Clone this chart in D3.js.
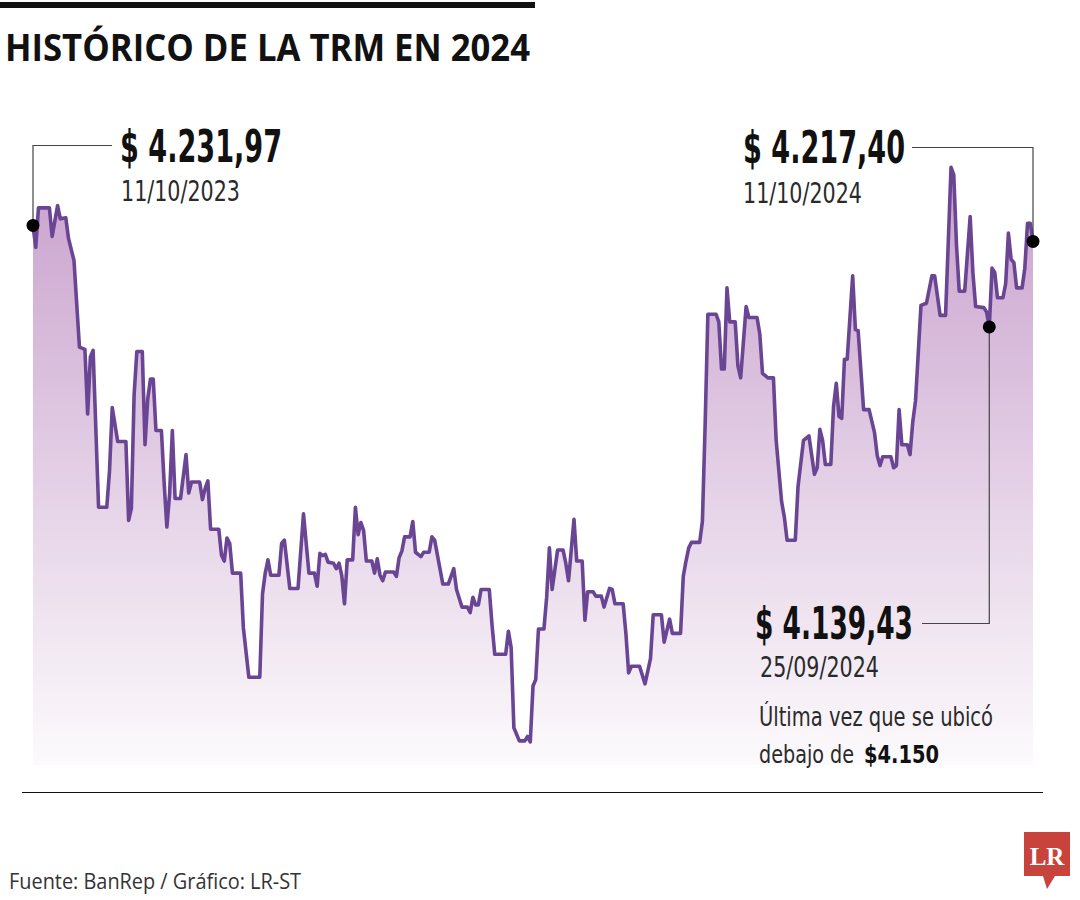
<!DOCTYPE html>
<html><head><meta charset="utf-8">
<script src="https://cdn.jsdelivr.net/npm/d3@7"></script>
<style>
html,body{margin:0;padding:0;background:#fff;}
svg{display:block;}
</style></head>
<body>
<script>
// ---- DATA ----
const dates = [
"2023-10-11","2023-10-12","2023-10-13","2023-10-17","2023-10-18","2023-10-20","2023-10-21","2023-10-23","2023-10-24","2023-10-26",
"2023-10-28","2023-10-30","2023-10-31","2023-11-01","2023-11-02","2023-11-04","2023-11-07","2023-11-08","2023-11-09","2023-11-11",
"2023-11-14","2023-11-15","2023-11-16","2023-11-17","2023-11-18","2023-11-20","2023-11-21","2023-11-22","2023-11-23","2023-11-24",
"2023-11-25","2023-11-27","2023-11-28","2023-11-29","2023-11-30","2023-12-01","2023-12-02","2023-12-04","2023-12-06","2023-12-07",
"2023-12-08","2023-12-11","2023-12-12","2023-12-13","2023-12-14","2023-12-15","2023-12-18","2023-12-19","2023-12-20","2023-12-21",
"2023-12-22","2023-12-23","2023-12-26","2023-12-27","2023-12-29","2024-01-02","2024-01-03","2024-01-04","2024-01-05","2024-01-06",
"2024-01-09","2024-01-10","2024-01-11","2024-01-13","2024-01-16","2024-01-18","2024-01-20","2024-01-22","2024-01-23","2024-01-24",
"2024-01-25","2024-01-26","2024-01-27","2024-01-29","2024-01-30","2024-01-31","2024-02-01","2024-02-02","2024-02-03","2024-02-05",
"2024-02-06","2024-02-07","2024-02-08","2024-02-09","2024-02-10","2024-02-12","2024-02-13","2024-02-14","2024-02-15","2024-02-16",
"2024-02-17","2024-02-20","2024-02-21","2024-02-22","2024-02-23","2024-02-24","2024-02-26","2024-02-27","2024-02-28","2024-03-01",
"2024-03-02","2024-03-04","2024-03-05","2024-03-06","2024-03-09","2024-03-11","2024-03-13","2024-03-14","2024-03-16","2024-03-18",
"2024-03-19","2024-03-20","2024-03-21","2024-03-22","2024-03-23","2024-03-26","2024-03-27","2024-03-28","2024-04-01","2024-04-02",
"2024-04-03","2024-04-04","2024-04-06","2024-04-08","2024-04-09","2024-04-10","2024-04-11","2024-04-12","2024-04-13","2024-04-15",
"2024-04-16","2024-04-17","2024-04-18","2024-04-20","2024-04-22","2024-04-23","2024-04-24","2024-04-26","2024-04-27","2024-04-29",
"2024-04-30","2024-05-01","2024-05-03","2024-05-04","2024-05-06","2024-05-07","2024-05-09","2024-05-10","2024-05-11","2024-05-14",
"2024-05-15","2024-05-16","2024-05-17","2024-05-20","2024-05-22","2024-05-24","2024-05-25","2024-05-28","2024-05-29","2024-05-31",
"2024-06-01","2024-06-04","2024-06-05","2024-06-06","2024-06-07","2024-06-08","2024-06-11","2024-06-12","2024-06-13","2024-06-14",
"2024-06-17","2024-06-18","2024-06-19","2024-06-20","2024-06-21","2024-06-22","2024-06-24","2024-06-25","2024-06-26","2024-06-28",
"2024-06-29","2024-07-02","2024-07-03","2024-07-04","2024-07-06","2024-07-08","2024-07-09","2024-07-11","2024-07-12","2024-07-13",
"2024-07-16","2024-07-17","2024-07-19","2024-07-21","2024-07-23","2024-07-24","2024-07-25","2024-07-26","2024-07-27","2024-07-29",
"2024-07-30","2024-07-31","2024-08-01","2024-08-02","2024-08-03","2024-08-04","2024-08-06","2024-08-07","2024-08-08","2024-08-10",
"2024-08-12","2024-08-14","2024-08-15","2024-08-16","2024-08-17","2024-08-20","2024-08-21","2024-08-22","2024-08-23","2024-08-24",
"2024-08-26","2024-08-27","2024-08-28","2024-08-29","2024-08-31","2024-09-02","2024-09-04","2024-09-05","2024-09-07","2024-09-09",
"2024-09-11","2024-09-12","2024-09-13","2024-09-14","2024-09-16","2024-09-18","2024-09-19","2024-09-20","2024-09-23","2024-09-24",
"2024-09-25","2024-09-26","2024-09-27","2024-09-28","2024-09-30","2024-10-01","2024-10-02","2024-10-03","2024-10-04","2024-10-05",
"2024-10-07","2024-10-08","2024-10-09","2024-10-10","2024-10-11"
];
const values = [
4231.97,4212,4248,4248,4222,4250,4238,4239,4220,4200,
4121,4119,4060,4112,4118,3975,3975,4008,4066,4035,
4035,3963,3974,4077,4117,4117,4032,4074,4092,4092,
4045,4045,3997,3957,3987,4045,3983,3983,4023,3988,
3998,3998,3982,3992,3999,3955,3955,3931,3926,3947,
3942,3915,3915,3865,3820,3820,3896,3915,3927,3913,
3913,3942,3945,3901,3901,3969,3915,3915,3903,3933,
3931,3932,3925,3924,3919,3924,3913,3887,3927,3927,
3975,3950,3961,3954,3926,3926,3915,3928,3913,3908,
3916,3916,3912,3929,3935,3948,3948,3962,3934,3930,
3934,3934,3948,3945,3905,3905,3919,3900,3884,3884,
3879,3893,3886,3886,3900,3900,3868,3841,3841,3862,
3847,3774,3762,3762,3766,3761,3812,3818,3864,3864,
3893,3938,3900,3936,3936,3924,3908,3964,3926,3926,
3872,3898,3898,3894,3894,3884,3901,3900,3887,3887,
3860,3824,3830,3830,3814,3837,3877,3877,3852,3873,
3860,3860,3912,3926,3938,3943,3943,3962,4050,4151,
4151,4144,4101,4101,4175,4144,4144,4104,4093,4158,
4148,4148,4133,4097,4093,4093,4036,3980,3966,3945,
3945,3994,4036,4040,4005,4011,4046,4036,4014,4014,
4067,4088,4058,4056,4110,4110,4186,4137,4136,4064,
4064,4043,4022,4013,4021,4021,4011,4013,4064,4032,
4032,4023,4053,4072,4159,4161,4186,4186,4150,4150,
4285,4278,4214,4172,4172,4240,4189,4158,4157,4153,
4139.43,4193,4189,4166,4166,4179,4225,4201,4198,4175,
4175,4193,4234,4234,4217.40
];
const titleText = "HISTÓRICO DE LA TRM EN 2024";
const annStart = { date: "2023-10-11", label: "$ 4.231,97", sub: "11/10/2023" };
const annEnd   = { date: "2024-10-11", label: "$ 4.217,40", sub: "11/10/2024" };
const annLow   = { date: "2024-09-25", label: "$ 4.139,43", sub: "25/09/2024",
                   note1: "Última vez que se ubicó", note2a: "debajo de", note2b: "$4.150" };
const sourceText = "Fuente:  BanRep / Gráfico: LR-ST";
const logoText = "LR";

// ---- DRAW ----
const W = 1080, H = 900;
const parse = d3.timeParse("%Y-%m-%d");
const data = dates.map((d, i) => ({ date: parse(d), value: values[i] }));

const svg = d3.select("body").append("svg").attr("width", W).attr("height", H);

const x = d3.scaleTime().domain([parse("2023-10-11"), parse("2024-10-11")]).range([33, 1033]);
const y = d3.scaleLinear().domain([3700, 4300]).range([808.9, 150.8]);
const baseY = 765;

const defs = svg.append("defs");
const grad = defs.append("linearGradient").attr("id", "fillGrad")
  .attr("gradientUnits", "userSpaceOnUse").attr("x1", 0).attr("x2", 0).attr("y1", 165).attr("y2", baseY);
grad.append("stop").attr("offset", "0%").attr("stop-color", "#c9a0cd");
grad.append("stop").attr("offset", "55%").attr("stop-color", "#e5d2e7");
grad.append("stop").attr("offset", "100%").attr("stop-color", "#fcfafc");

// top bar + title
svg.append("rect").attr("x", 0).attr("y", 2).attr("width", 535).attr("height", 6).attr("fill", "#111");
svg.append("text").attr("x", 5).attr("y", 61)
  .attr("font-family", "'Open Sans', 'Liberation Sans', sans-serif").attr("font-weight", 700)
  .attr("font-size", 38).attr("fill", "#111")
  .attr("textLength", 525).attr("lengthAdjust", "spacingAndGlyphs").text(titleText);

// area + line
const area = d3.area().x(d => x(d.date)).y0(baseY).y1(d => y(d.value)).curve(d3.curveLinear);
const line = d3.line().x(d => x(d.date)).y(d => y(d.value)).curve(d3.curveLinear);
svg.append("path").datum(data).attr("d", area).attr("fill", "url(#fillGrad)");
svg.append("path").datum(data).attr("d", line).attr("fill", "none")
  .attr("stroke", "#6a4593").attr("stroke-width", 3.6).attr("stroke-linejoin", "round");

// baseline rule
svg.append("line").attr("x1", 22).attr("x2", 1043).attr("y1", 792.5).attr("y2", 792.5)
  .attr("stroke", "#111").attr("stroke-width", 1.2);

// annotations
const find = s => data.find(d => +d.date === +parse(s));
const pS = find(annStart.date), pE = find(annEnd.date), pL = find(annLow.date);
const conn = svg.append("g").attr("fill", "none").attr("stroke", "#444").attr("stroke-width", 1.2);
conn.append("path").attr("d", `M${x(pS.date)},${y(pS.value)} V145.5 H112`);
conn.append("path").attr("d", `M${x(pE.date)},${y(pE.value)} V147.5 H912`);
conn.append("path").attr("d", `M${x(pL.date)},${y(pL.value)} V623.5 H922`);

svg.selectAll("circle.dot").data([pS, pE, pL]).enter().append("circle")
  .attr("cx", d => x(d.date)).attr("cy", d => y(d.value)).attr("r", 6.5).attr("fill", "#000");

const condensed = "'Liberation Sans Narrow', 'DejaVu Sans Condensed', 'Open Sans', sans-serif";
function big(xp, yp, txt, len) {
  svg.append("text").attr("x", xp).attr("y", yp).attr("font-family", condensed)
    .attr("font-weight", 700).attr("font-size", 44).attr("fill", "#111")
    .attr("textLength", len).attr("lengthAdjust", "spacingAndGlyphs").text(txt);
}
function small(xp, yp, txt, len, bold, size) {
  svg.append("text").attr("x", xp).attr("y", yp).attr("font-family", condensed)
    .attr("font-weight", bold ? 700 : 400).attr("font-size", size || 29).attr("fill", bold ? "#111" : "#2a2a2a")
    .attr("textLength", len).attr("lengthAdjust", "spacingAndGlyphs").text(txt);
}
big(120, 162, annStart.label, 162);
small(121, 201, annStart.sub, 119);
big(743, 163, annEnd.label, 162);
small(743, 203, annEnd.sub, 119);
big(755, 639, annLow.label, 158);
small(760, 677, annLow.sub, 119);
small(759, 726, annLow.note1, 234, false, 26);
small(759, 763, annLow.note2a, 95, false, 24);
small(864, 763, annLow.note2b, 75, true, 25);

// source
svg.append("text").attr("x", 9).attr("y", 889).attr("font-family", "'Open Sans', 'Liberation Sans', sans-serif")
  .attr("font-size", 22).attr("fill", "#333").attr("textLength", 292).attr("lengthAdjust", "spacingAndGlyphs")
  .text(sourceText);

// logo
const lg = svg.append("g");
lg.append("path").attr("d", "M1024,832 H1070 V876 H1055 L1047,889 L1043,876 H1024 Z").attr("fill", "#c8433b");
lg.append("text").attr("x", 1047).attr("y", 865).attr("text-anchor", "middle")
  .attr("font-family", "'Liberation Serif', 'DejaVu Serif', serif").attr("font-weight", 700)
  .attr("font-size", 25).attr("fill", "#fff").text(logoText);
</script>
</body></html>
